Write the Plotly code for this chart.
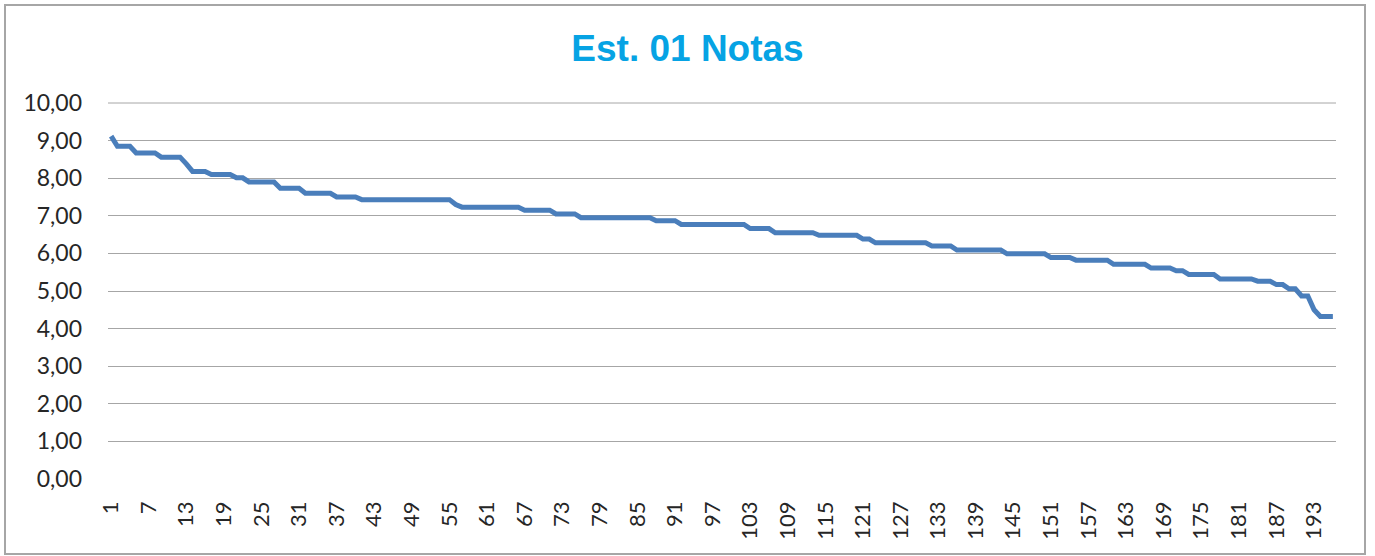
import plotly.graph_objects as go

title_text = "Est. 01 Notas"

notas = [
    9.12, 8.85, 8.85, 8.85, 8.67, 8.67, 8.67, 8.67, 8.56, 8.56,
    8.56, 8.56, 8.38, 8.18, 8.18, 8.18, 8.10, 8.10, 8.10, 8.10,
    8.01, 8.01, 7.90, 7.90, 7.90, 7.90, 7.90, 7.73, 7.73, 7.73,
    7.73, 7.60, 7.60, 7.60, 7.60, 7.60, 7.50, 7.50, 7.50, 7.50,
    7.43, 7.43, 7.43, 7.43, 7.43, 7.43, 7.43, 7.43, 7.43, 7.43,
    7.43, 7.43, 7.43, 7.43, 7.43, 7.30, 7.23, 7.23, 7.23, 7.23,
    7.23, 7.23, 7.23, 7.23, 7.23, 7.23, 7.15, 7.15, 7.15, 7.15,
    7.15, 7.05, 7.05, 7.05, 7.05, 6.95, 6.95, 6.95, 6.95, 6.95,
    6.95, 6.95, 6.95, 6.95, 6.95, 6.95, 6.95, 6.87, 6.87, 6.87,
    6.87, 6.77, 6.77, 6.77, 6.77, 6.77, 6.77, 6.77, 6.77, 6.77,
    6.77, 6.77, 6.66, 6.66, 6.66, 6.66, 6.55, 6.55, 6.55, 6.55,
    6.55, 6.55, 6.55, 6.48, 6.48, 6.48, 6.48, 6.48, 6.48, 6.48,
    6.38, 6.38, 6.28, 6.28, 6.28, 6.28, 6.28, 6.28, 6.28, 6.28,
    6.28, 6.20, 6.20, 6.20, 6.20, 6.09, 6.09, 6.09, 6.09, 6.09,
    6.09, 6.09, 6.09, 5.99, 5.99, 5.99, 5.99, 5.99, 5.99, 5.99,
    5.89, 5.89, 5.89, 5.89, 5.82, 5.82, 5.82, 5.82, 5.82, 5.82,
    5.71, 5.71, 5.71, 5.71, 5.71, 5.71, 5.61, 5.61, 5.61, 5.61,
    5.54, 5.54, 5.44, 5.44, 5.44, 5.44, 5.44, 5.32, 5.32, 5.32,
    5.32, 5.32, 5.32, 5.26, 5.26, 5.26, 5.17, 5.17, 5.06, 5.06,
    4.87, 4.87, 4.50, 4.32, 4.32, 4.32,
]
estudiantes = list(range(1, len(notas) + 1))

x_tick_vals = list(range(1, 194, 6))
x_tick_text = [str(v) for v in x_tick_vals]
y_tick_vals = [0, 1, 2, 3, 4, 5, 6, 7, 8, 9, 10]
y_tick_text = ["0,00", "1,00", "2,00", "3,00", "4,00", "5,00",
               "6,00", "7,00", "8,00", "9,00", "10,00"]

W, H = 1375, 556
L, R, T, B = 108, 1336, 103, 479

fig = go.Figure()
fig.add_trace(go.Scatter(
    x=estudiantes, y=notas, mode="lines",
    line=dict(color="#4A7EBB", width=5),
    hoverinfo="skip", showlegend=False,
))

def px_x(p):
    return (p - L) / (R - L)

def px_y(p):
    return (B - p) / (B - T)

fig.update_layout(
    width=W, height=H,
    margin=dict(l=L, r=W - R, t=T, b=H - B, pad=0),
    paper_bgcolor="white", plot_bgcolor="white",
    title=dict(text="<b>" + title_text + "</b>", x=0.5, xanchor="center",
               y=1 - 48 / H, yanchor="middle",
               font=dict(family="Liberation Sans, Arial", size=37, color="#06A3E4")),
    font=dict(family="Lato, Open Sans, sans-serif", size=22, color="#262626"),
    xaxis=dict(range=[0.5, len(notas) + 0.5], tickmode="array",
               tickvals=x_tick_vals, ticktext=x_tick_text, tickangle=-90,
               showgrid=False, zeroline=False, showline=False, ticks="",
               ticklabelstandoff=17, tickfont=dict(size=22)),
    yaxis=dict(range=[0, 10], tickmode="array", tickvals=y_tick_vals,
               ticktext=y_tick_text, showgrid=True, gridcolor="#A6A6A6",
               gridwidth=1, zeroline=False, showline=False, ticks="",
               ticklabelstandoff=25, tickfont=dict(size=23)),
    shapes=[
        dict(type="rect", xref="paper", yref="paper",
             x0=px_x(5), x1=px_x(1365), y0=px_y(554), y1=px_y(5),
             line=dict(color="#A6A6A6", width=2), fillcolor="rgba(0,0,0,0)",
             layer="below"),
        dict(type="line", xref="paper", yref="paper",
             x0=0, x1=1, y0=1, y1=1, line=dict(color="#A6A6A6", width=1),
             layer="below"),
    ],
)

fig.write_html("out.html", config={"displayModeBar": False},
               post_script="document.body.style.margin='0';")
